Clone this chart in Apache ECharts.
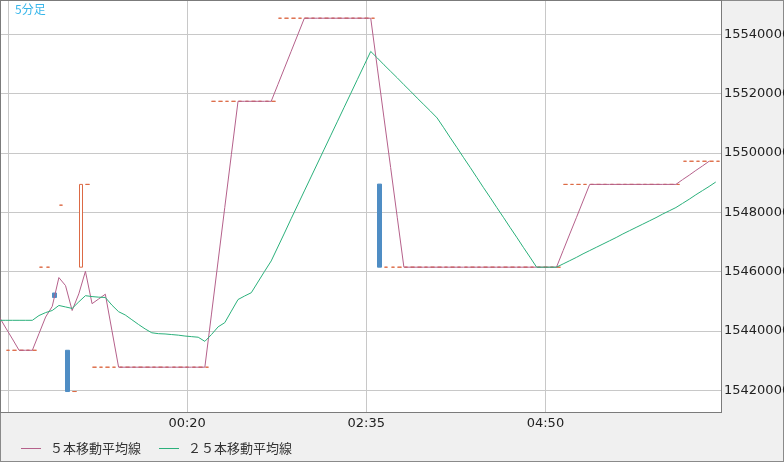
<!DOCTYPE html>
<html><head><meta charset="utf-8">
<script src="https://cdn.jsdelivr.net/npm/echarts@6/dist/echarts.min.js"></script>
<style>
html,body{margin:0;padding:0;background:#f0f0f0;}
#wrap{position:relative;width:784px;height:462px;background:#f0f0f0;overflow:hidden;}
#plot{position:absolute;left:0;top:0;width:722px;height:413px;background:#fff;border:1px solid #7b7b7b;box-sizing:border-box;}
#frame{position:absolute;left:0;top:0;width:784px;height:462px;border:1px solid #8a8a8a;box-sizing:border-box;}
#chart{position:absolute;left:0;top:0;width:784px;height:462px;}
</style></head><body>
<div id="wrap"><div id="frame"></div><div id="plot"></div><div id="chart"></div></div>
<script>
// time slots (5-minute bars), first slot 22:00
const firstSlot = '22:00';
const slotCount = 110;
const categories = [];
(function(){
  const p = firstSlot.split(':');
  const start = (+p[0]) * 60 + (+p[1]);
  for (let k = 0; k < slotCount; k++) {
    const m = (start + 5 * k) % 1440;
    categories.push(String(Math.floor(m / 60)).padStart(2, '0') + ':' + String(m % 60).padStart(2, '0'));
  }
})();
const xGridTimes = ['22:05', '00:20', '02:35', '04:50'];
const xLabelTimes = ['00:20', '02:35', '04:50'];
const yTickValues = [15420000, 15440000, 15460000, 15480000, 15500000, 15520000, 15540000];
const yMin = 15412700;
const yMax = 15551200;

const opens = [
  null,
  15433500, 15433500, 15433500, 15433500, 15433500,
  15461500, 15461500, 15452800, 15482400, 15433500, 15419600, 15461500, 15489400,
  15427800, 15427800, 15427800, 15427800, 15427800, 15427800, 15427800, 15427800, 15427800,
  15427800, 15427800, 15427800, 15427800, 15427800, 15427800, 15427800, 15427800, 15427800,
  15517400, 15517400, 15517400, 15517400, 15517400, 15517400, 15517400, 15517400, 15517400, 15517400,
  15545400, 15545400, 15545400, 15545400, 15545400, 15545400, 15545400, 15545400,
  15545400, 15545400, 15545400, 15545400, 15545400, 15545400, 15545400,
  15489500, 15461500, 15461500, 15461500, 15461500, 15461500, 15461500, 15461500, 15461500, 15461500,
  15461500, 15461500, 15461500, 15461500, 15461500, 15461500, 15461500, 15461500, 15461500, 15461500,
  15461500, 15461500, 15461500, 15461500, 15461500, 15461500, 15461500, 15461500,
  15489400, 15489400, 15489400, 15489400, 15489400, 15489400, 15489400, 15489400, 15489400,
  15489400, 15489400, 15489400, 15489400, 15489400, 15489400, 15489400, 15489400, 15489400,
  15497200, 15497200, 15497200, 15497200, 15497200, 15497200,
  null
];
const closes = [
  null,
  15433500, 15433500, 15433500, 15433500, 15433500,
  15461500, 15461500, 15451300, 15482400, 15419600, 15419600, 15489400, 15489400,
  15427800, 15427800, 15427800, 15427800, 15427800, 15427800, 15427800, 15427800, 15427800,
  15427800, 15427800, 15427800, 15427800, 15427800, 15427800, 15427800, 15427800, 15427800,
  15517400, 15517400, 15517400, 15517400, 15517400, 15517400, 15517400, 15517400, 15517400, 15517400,
  15545400, 15545400, 15545400, 15545400, 15545400, 15545400, 15545400, 15545400,
  15545400, 15545400, 15545400, 15545400, 15545400, 15545400, 15545400,
  15461500, 15461500, 15461500, 15461500, 15461500, 15461500, 15461500, 15461500, 15461500, 15461500,
  15461500, 15461500, 15461500, 15461500, 15461500, 15461500, 15461500, 15461500, 15461500, 15461500,
  15461500, 15461500, 15461500, 15461500, 15461500, 15461500, 15461500, 15461500,
  15489400, 15489400, 15489400, 15489400, 15489400, 15489400, 15489400, 15489400, 15489400,
  15489400, 15489400, 15489400, 15489400, 15489400, 15489400, 15489400, 15489400, 15489400,
  15497200, 15497200, 15497200, 15497200, 15497200, 15497200,
  null
];
const ma5 = [
  15444800,
  15441000, 15437300, 15433500, 15433500, 15433500,
  15439100, 15444700, 15448300, 15458000, 15455300, 15446900, 15452500, 15460100,
  15449200, 15450800, 15452400, 15440100,
  15427800, 15427800, 15427800, 15427800, 15427800, 15427800, 15427800,
  15427800, 15427800, 15427800, 15427800, 15427800, 15427800, 15427800,
  15445700, 15463600, 15481600, 15499500,
  15517400, 15517400, 15517400, 15517400, 15517400, 15517400,
  15523000, 15528600, 15534200, 15539800,
  15545400, 15545400, 15545400, 15545400, 15545400, 15545400, 15545400, 15545400, 15545400, 15545400, 15545400,
  15528600, 15511800, 15495100, 15478300,
  15461500, 15461500, 15461500, 15461500, 15461500, 15461500, 15461500, 15461500, 15461500, 15461500, 15461500, 15461500,
  15461500, 15461500, 15461500, 15461500, 15461500, 15461500, 15461500, 15461500, 15461500, 15461500, 15461500, 15461500,
  15467100, 15472700, 15478200, 15483800,
  15489400, 15489400, 15489400, 15489400, 15489400, 15489400, 15489400,
  15489400, 15489400, 15489400, 15489400, 15489400, 15489400, 15489400,
  15491000, 15492500, 15494100, 15495600, 15497200,
  null, null
];
const ma25 = [
  15443600,
  15443600, 15443600, 15443600, 15443600, 15443600,
  15445200, 15446200, 15446900, 15448600, 15448100, 15447600, 15449800, 15451900,
  15451600, 15451400, 15451300, 15448700, 15446500, 15445400, 15443800, 15442200, 15440700,
  15439400, 15439100, 15439000, 15438800, 15438600, 15438300, 15438100, 15437900, 15436500,
  15438800, 15441400, 15442800, 15446700, 15450600, 15451800, 15452900, 15456500, 15460100, 15463600,
  15468300, 15473000, 15477800, 15482500, 15487200, 15491900, 15496600, 15501300,
  15506000, 15510700, 15515400, 15520100, 15524800, 15529500, 15534200,
  15532000, 15529700, 15527500, 15525300, 15523000, 15520800, 15518500, 15516300, 15514100, 15511800,
  15508500, 15505100, 15501800, 15498400, 15495100, 15491700, 15488300, 15485000, 15481600, 15478300,
  15474900, 15471600, 15468200, 15464900, 15461500, 15461500, 15461500, 15461500,
  15462600, 15463700, 15464800, 15466000, 15467100, 15468200, 15469300, 15470400, 15471500,
  15472700, 15473800, 15474900, 15476000, 15477100, 15478200, 15479400, 15480500, 15481600,
  15483000, 15484400, 15485900, 15487300, 15488700, 15490200,
  null
];

const candleData = opens.map(function (o, k) {
  const c = closes[k];
  if (o == null || c == null) return '-';
  return [o, c, Math.min(o, c), Math.max(o, c)];
});

const UP = '#dc6a45', DOWN = '#4f8dc4', MA5C = '#b5618b', MA25C = '#2bb07b', GRID = '#c8c8c8', TXT = '#222';

const chart = echarts.init(document.getElementById('chart'), null, {renderer: 'canvas'});
chart.setOption({
  animation: false,
  backgroundColor: 'transparent',
  title: {
    text: '5分足', left: 15, top: 3, padding: 0,
    textStyle: {color: '#38b6ea', fontSize: 12, fontWeight: 'normal', fontFamily: 'Noto Sans CJK JP'}
  },
  legend: {
    left: 16, top: 437, itemWidth: 20, itemHeight: 1, itemGap: 18, icon: 'rect',
    data: ['５本移動平均線', '２５本移動平均線'],
    textStyle: {color: '#333', fontSize: 13, fontFamily: 'Noto Sans CJK JP', padding: [0, 0, 0, 4]}
  },
  grid: [
    {left: 1, top: 1, width: 720, height: 411, containLabel: false, outerBoundsMode: 'none'},
    {left: 1.37, top: 1, width: 723.2, height: 411, containLabel: false, outerBoundsMode: 'none'},
    {left: -0.83, top: 1, width: 723.2, height: 411, containLabel: false, outerBoundsMode: 'none'}
  ],
  xAxis: [
    {type: 'category', gridIndex: 0, data: categories, show: false},
    {
      type: 'category', gridIndex: 1, data: categories, boundaryGap: false,
      axisLine: {show: false}, axisTick: {show: false},
      axisLabel: {
        interval: function (i, v) { return xLabelTimes.indexOf(v) >= 0; },
        margin: 5, color: TXT, fontSize: 13, fontFamily: 'DejaVu Sans'
      },
      splitLine: {
        show: true,
        interval: function (i, v) { return xGridTimes.indexOf(v) >= 0; },
        lineStyle: {color: GRID, width: 1}
      }
    },
    {type: 'category', gridIndex: 2, data: categories, boundaryGap: false, show: false}
  ],
  yAxis: [
    {
      type: 'value', gridIndex: 0, position: 'right', min: yMin, max: yMax, splitNumber: 7,
      axisLine: {show: false}, axisTick: {show: false},
      axisLabel: {
        margin: 3, color: TXT, fontSize: 13, fontFamily: 'DejaVu Sans',
        formatter: function (v) { return yTickValues.indexOf(v) >= 0 ? String(v) : ''; }
      },
      splitLine: {show: true, showMinLine: false, showMaxLine: false, lineStyle: {color: GRID, width: 1}}
    },
    {type: 'value', gridIndex: 1, min: yMin, max: yMax, show: false, splitLine: {show: false}},
    {type: 'value', gridIndex: 2, min: yMin, max: yMax, show: false, splitLine: {show: false}}
  ],
  series: [
    {
      type: 'candlestick', name: '5分足', xAxisIndex: 1, yAxisIndex: 1, data: candleData,
      barWidth: 4, clip: true, z: 2,
      itemStyle: {color: '#ffffff', color0: DOWN, borderColor: UP, borderColor0: DOWN, borderColorDoji: UP, borderWidth: 1}
    },
    {
      type: 'line', name: '５本移動平均線', xAxisIndex: 2, yAxisIndex: 2, data: ma5,
      symbol: 'none', showSymbol: false, z: 3, clip: true,
      lineStyle: {width: 1, color: MA5C}, itemStyle: {color: MA5C}
    },
    {
      type: 'line', name: '２５本移動平均線', xAxisIndex: 2, yAxisIndex: 2, data: ma25,
      symbol: 'none', showSymbol: false, z: 3, clip: true,
      lineStyle: {width: 1, color: MA25C}, itemStyle: {color: MA25C}
    }
  ]
});
</script>
</body></html>
